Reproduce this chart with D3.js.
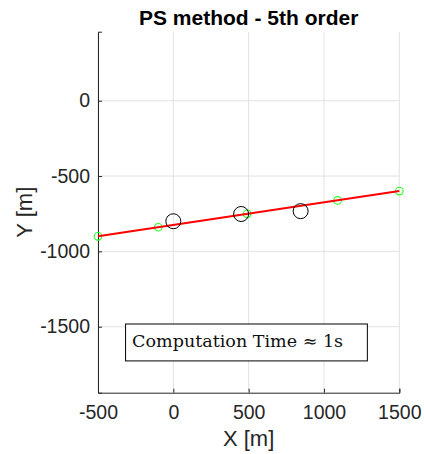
<!DOCTYPE html>
<html>
<head>
<meta charset="utf-8">
<script src="https://cdn.jsdelivr.net/npm/d3@7"></script>
<style>
  html, body { margin: 0; padding: 0; background: #fff; }
  svg { display: block; }
</style>
</head>
<body>
<svg id="chart" width="424" height="454"></svg>
<script>
// Fitted trajectory (straight line between its end points)
const fitX = [-500, 1500];
const fitY = [-900, -600];

// Collocation nodes along the trajectory
const nodeX = [-500, -100, 490, 1090, 1500];
const nodeY = [-900, -840, -751, -662, -600];

// Waypoints to be passed
const wayX = [0, 450, 845];
const wayY = [-800, -752, -733];

// Axis ticks
const xTicks = [-500, 0, 500, 1000, 1500];
const yTicks = [-1500, -1000, -500, 0];

const titleText = "PS method - 5th order";
const xLabel = "X [m]";
const yLabel = "Y [m]";
const noteText = "Computation Time \u2248 1s";

const svg = d3.select("#chart");
const plot = { left: 98, right: 399.3, top: 31.7, bottom: 392.7 };

const x = d3.scaleLinear().domain([-500, 1500]).range([plot.left, plot.right]);
const y = d3.scaleLinear().domain([-1938, 458]).range([plot.bottom, plot.top]);

const axisColor = "#262626";
const sans = "'Liberation Sans', Arial, Helvetica, sans-serif";
const fmt = d => String(d);

// Grid lines
const grid = svg.append("g");
grid.selectAll("line.gx").data(xTicks).join("line")
  .attr("x1", d => x(d)).attr("x2", d => x(d))
  .attr("y1", plot.top).attr("y2", plot.bottom)
  .attr("stroke", "#e2e2e2").attr("stroke-width", 1);
grid.selectAll("line.gy").data(yTicks).join("line")
  .attr("x1", plot.left).attr("x2", plot.right)
  .attr("y1", d => y(d)).attr("y2", d => y(d))
  .attr("stroke", "#e2e2e2").attr("stroke-width", 1);

// Axes (ticks pointing into the plot)
const xAxis = d3.axisBottom(x).tickValues(xTicks).tickSize(-4).tickPadding(12).tickFormat(fmt);
const yAxis = d3.axisLeft(y).tickValues(yTicks).tickSize(-4).tickPadding(8).tickFormat(fmt);

const gx = svg.append("g").attr("transform", `translate(0,${plot.bottom})`).call(xAxis);
const gy = svg.append("g").attr("transform", `translate(${plot.left},0)`).call(yAxis);
[gx, gy].forEach(g => {
  g.select(".domain").attr("stroke", axisColor).attr("stroke-width", 1);
  g.selectAll(".tick line").attr("stroke", axisColor);
  g.selectAll(".tick text").attr("fill", axisColor)
    .style("font-family", sans).style("font-size", "19.5px");
});
gx.selectAll(".tick text").attr("dy", "0.71em");

// Collocation nodes
svg.append("g").selectAll("circle").data(nodeX).join("circle")
  .attr("cx", d => x(d)).attr("cy", (d, i) => y(nodeY[i]))
  .attr("r", 3.8).attr("fill", "none")
  .attr("stroke", "#22ff22").attr("stroke-width", 1.1);

// Trajectory
const line = d3.line().x(d => x(d[0])).y(d => y(d[1]));
svg.append("path").datum(fitX.map((v, i) => [v, fitY[i]]))
  .attr("d", line).attr("fill", "none")
  .attr("stroke", "#ff0000").attr("stroke-width", 2);

// Waypoints
svg.append("g").selectAll("circle").data(wayX).join("circle")
  .attr("cx", d => x(d)).attr("cy", (d, i) => y(wayY[i]))
  .attr("r", 7.5).attr("fill", "none")
  .attr("stroke", "#000").attr("stroke-width", 1);

// Annotation box
const box = { x0: -317, x1: 1288, y0: -1482, y1: -1727 };
svg.append("rect")
  .attr("x", x(box.x0)).attr("y", y(box.y0))
  .attr("width", x(box.x1) - x(box.x0)).attr("height", y(box.y1) - y(box.y0))
  .attr("fill", "#fff").attr("stroke", "#000").attr("stroke-width", 1);
svg.append("text")
  .attr("x", x(box.x0) + 6.5).attr("y", y(box.y0) + 23)
  .attr("textLength", 211).attr("lengthAdjust", "spacingAndGlyphs")
  .style("font-family", "'DejaVu Serif', 'Liberation Serif', serif")
  .style("font-size", "16.5px").attr("fill", "#111")
  .text(noteText);

// Title and axis labels
svg.append("text")
  .attr("x", (plot.left + plot.right) / 2).attr("y", 25)
  .attr("text-anchor", "middle")
  .style("font-family", sans).style("font-size", "21px").style("font-weight", "bold")
  .attr("fill", "#000").text(titleText);
svg.append("text")
  .attr("x", (plot.left + plot.right) / 2).attr("y", 446)
  .attr("text-anchor", "middle")
  .style("font-family", sans).style("font-size", "22px")
  .attr("fill", axisColor).text(xLabel);
svg.append("text")
  .attr("transform", `translate(32,${(plot.top + plot.bottom) / 2}) rotate(-90)`)
  .attr("text-anchor", "middle")
  .style("font-family", sans).style("font-size", "22px")
  .attr("fill", axisColor).text(yLabel);
</script>
</body>
</html>
